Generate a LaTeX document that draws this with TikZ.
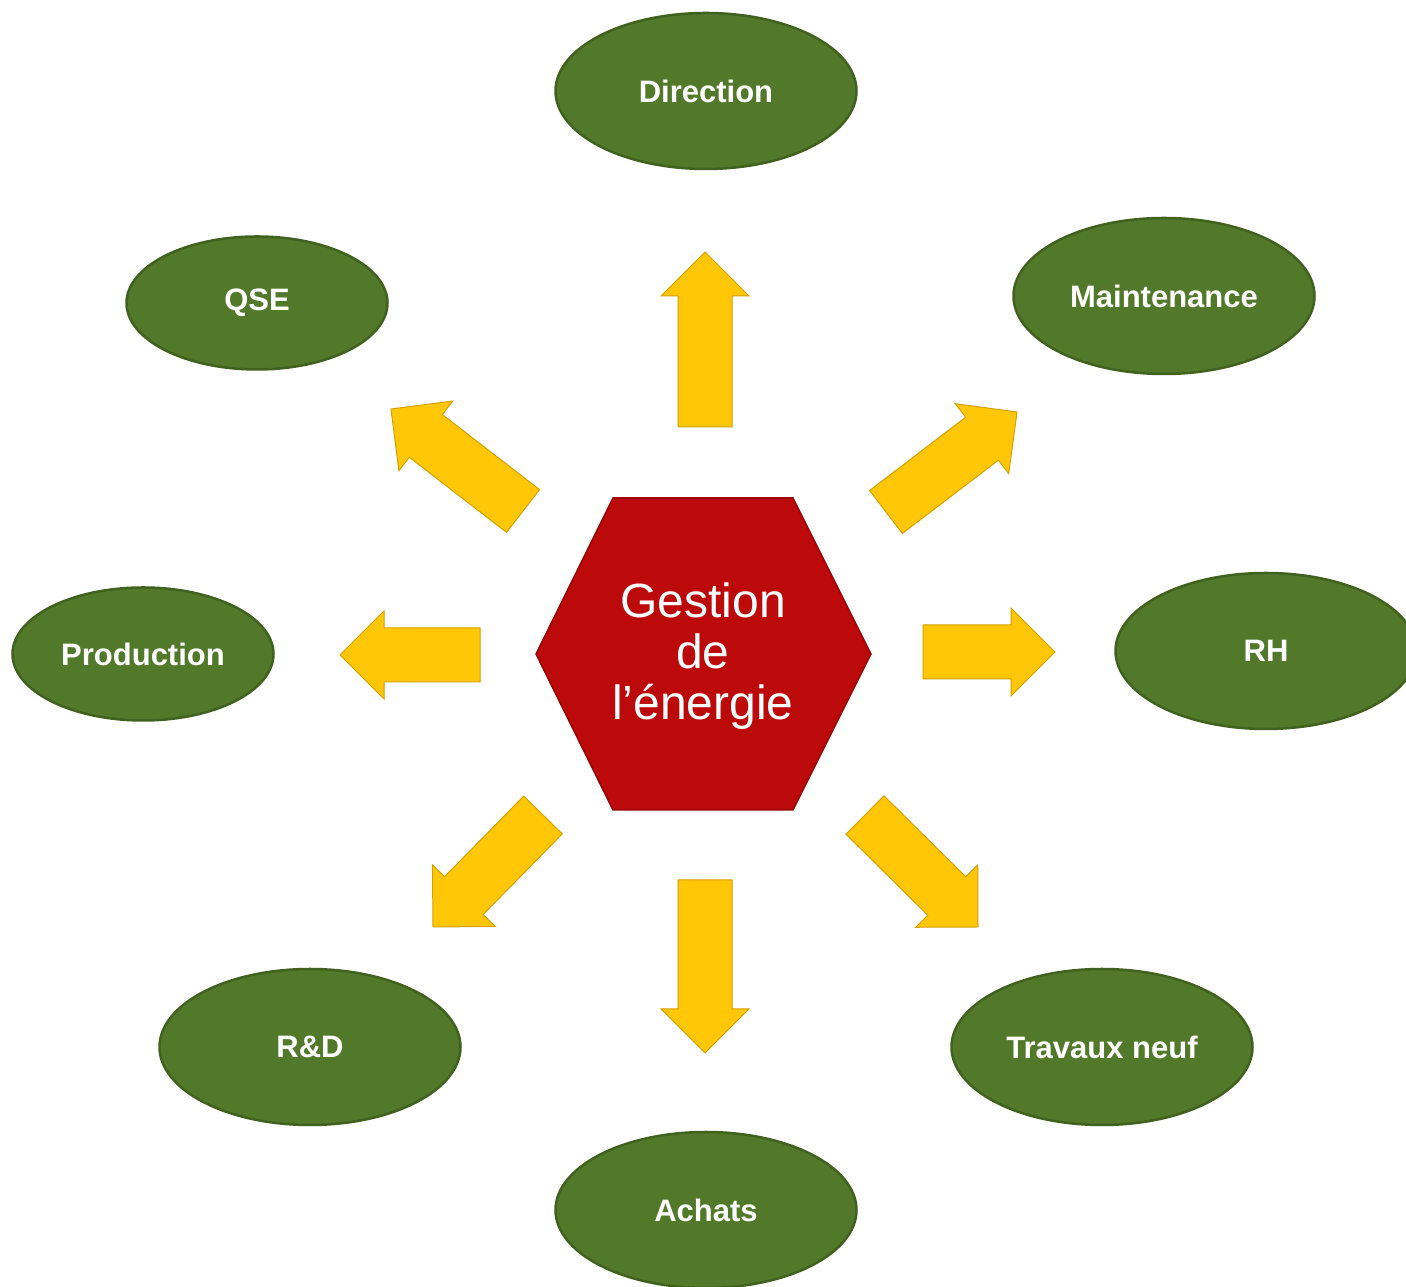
\documentclass[tikz,border=0pt]{standalone}
\usepackage{fontspec}
\setmainfont{Liberation Sans}
\usetikzlibrary{shapes.geometric,calc}
\definecolor{gfill}{HTML}{52792A}
\definecolor{gedge}{HTML}{41611F}
\definecolor{hfill}{HTML}{BC0909}
\definecolor{hedge}{HTML}{9A0606}
\definecolor{afill}{HTML}{FFC708}
\definecolor{aedge}{HTML}{D4A000}
\newcommand\blockarrow[2]{%
  \coordinate (#1-h) at ($(#2)!44pt!(#1)$);
  \draw[arrowstyle] ($(#1)!27pt!90:(#2)$) -- ($(#1-h)!27pt!90:(#2)$) -- ($(#1-h)!44pt!90:(#2)$) -- (#2) -- ($(#1-h)!44pt!-90:(#2)$) -- ($(#1-h)!27pt!-90:(#2)$) -- ($(#1)!27pt!-90:(#2)$) -- cycle;
}
\begin{document}
\begin{tikzpicture}[x=1pt,y=1pt,
  dept/.style={ellipse, fill=gfill, draw=gedge, line width=2.5pt, text=white,
    font=\fontsize{31}{36}\selectfont\bfseries, inner sep=0pt},
  big/.style={minimum width=301pt, minimum height=156pt},
  small/.style={minimum width=261pt, minimum height=133pt},
  arrowstyle/.style={fill=afill, draw=aedge, line width=1pt, line join=miter},
  hexstyle/.style={fill=hfill, draw=hedge, line width=1.5pt, line join=miter},
  hextext/.style={text=white, align=center, font=\fontsize{48}{51}\selectfont}]
\useasboundingbox (0,0) rectangle (1406,1287);
\clip (0,0) rectangle (1406,1287);

% departments
\node[dept, big]   (dir)  at (706,1196) {Direction};
\node[dept, small] (qse)  at (257,984)  {QSE};
\node[dept, big]   (mnt)  at (1164,991) {Maintenance};
\node[dept, small] (prod) at (143,633)  {Production};
\node[dept, big]   (rh)   at (1266,636) {RH};
\node[dept, big]   (rd)   at (310,240)  {R\&D};
\node[dept, big]   (tn)   at (1102,240) {Travaux neuf};
\node[dept, big]   (ach)  at (706,77)   {Achats};

% central hexagon
\coordinate (h1) at (613,789);
\coordinate (h2) at (793,789);
\coordinate (h3) at (871,633);
\coordinate (h4) at (793,477);
\coordinate (h5) at (613,477);
\coordinate (h6) at (536,633);
\draw[hexstyle] (h1) -- (h2) -- (h3) -- (h4) -- (h5) -- (h6) -- cycle;
\node[hextext] (center) at (703,631) {Gestion\\de\\l’énergie};

% arrows: tail and tip coordinates
\coordinate (upT) at (705,860);   \coordinate (upP) at (705,1035);
\coordinate (dnT) at (705,407);   \coordinate (dnP) at (705,234);
\coordinate (lfT) at (480,632);   \coordinate (lfP) at (340,632);
\coordinate (rtT) at (923,635);   \coordinate (rtP) at (1055,635);
\coordinate (ulT) at (523,776);   \coordinate (ulP) at (391,878);
\coordinate (urT) at (886,775);   \coordinate (urP) at (1017,875);
\coordinate (dlT) at (543,472);   \coordinate (dlP) at (433,360);
\coordinate (drT) at (865,472);   \coordinate (drP) at (978,360);
\blockarrow{upT}{upP}
\blockarrow{dnT}{dnP}
\blockarrow{lfT}{lfP}
\blockarrow{rtT}{rtP}
\blockarrow{ulT}{ulP}
\blockarrow{urT}{urP}
\blockarrow{dlT}{dlP}
\blockarrow{drT}{drP}
\end{tikzpicture}
\end{document}
